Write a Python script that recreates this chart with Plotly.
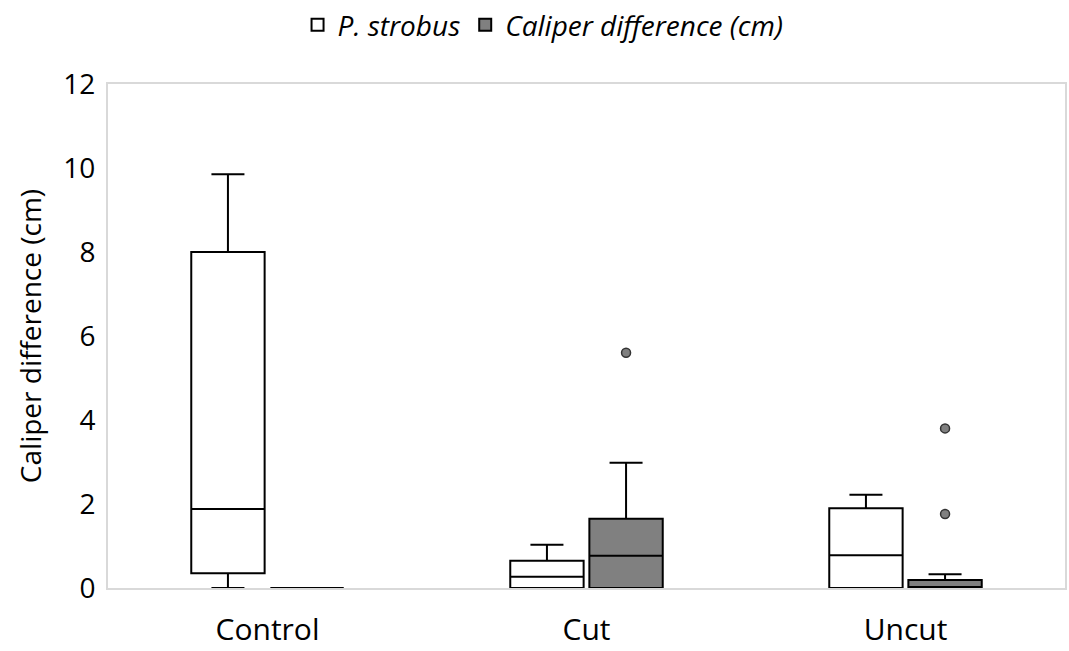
import plotly.graph_objects as go

categories = ["Control", "Cut", "Uncut"]
series_names = ["P. strobus", "Caliper difference (cm)"]

# P. strobus (white)
w_low = [0.0, 0.0, 0.0]
w_q1 = [0.35, 0.0, 0.0]
w_med = [1.88, 0.27, 0.78]
w_q3 = [8.0, 0.65, 1.9]
w_high = [9.85, 1.03, 2.22]

# Caliper difference (grey)
g_low = [0.0, 0.0, 0.0]
g_q1 = [0.0, 0.0, 0.0]
g_med = [0.0, 0.77, 0.0]
g_q3 = [0.0, 1.65, 0.19]
g_high = [0.0, 2.98, 0.33]
g_outlier_cat = [1, 2, 2]
g_outlier_val = [5.6, 3.8, 1.76]

pos = list(range(len(categories)))
off = 0.124
bw = 0.23

fig = go.Figure()
fig.add_trace(go.Box(
    name=series_names[0], x=[p - off for p in pos],
    lowerfence=w_low, q1=w_q1, median=w_med, q3=w_q3, upperfence=w_high,
    width=bw, fillcolor="white", line=dict(color="black", width=2),
    whiskerwidth=0.45, boxpoints=False, showlegend=True))
fig.add_trace(go.Box(
    name=series_names[1], x=[p + off for p in pos],
    lowerfence=g_low, q1=g_q1, median=g_med, q3=g_q3, upperfence=g_high,
    width=bw, fillcolor="#808080", line=dict(color="black", width=2),
    whiskerwidth=0.45, boxpoints=False, showlegend=True))
fig.add_trace(go.Scatter(
    x=[pos[i] + off for i in g_outlier_cat], y=g_outlier_val, mode="markers",
    marker=dict(color="#808080", size=9, line=dict(color="#333333", width=1.5)),
    showlegend=False, hoverinfo="y"))

fig.update_layout(
    width=1069, height=651,
    paper_bgcolor="white", plot_bgcolor="white",
    margin=dict(l=108, r=2, t=84, b=61),
    font=dict(family="Open Sans, Noto Sans, sans-serif", color="black"),
    legend=dict(orientation="h", x=0.508, xanchor="center", xref="container",
                y=1.0, yanchor="top", yref="container",
                font=dict(size=28, style="italic"),
                itemwidth=30, tracegroupgap=0),
    showlegend=True,
)
fig.update_xaxes(range=[-0.5, 2.5], tickvals=pos, ticktext=categories,
                 tickfont=dict(size=30), showgrid=False, zeroline=False,
                 showline=True, linecolor="#d9d9d9", linewidth=2, mirror=True,
                 ticks="", ticklabelstandoff=14)
fig.update_yaxes(range=[0, 12], dtick=2, tickfont=dict(size=28), showgrid=False,
                 zeroline=False, showline=True, linecolor="#d9d9d9", linewidth=2,
                 mirror=True, ticks="", ticklabelstandoff=5,
                 title=dict(text="Caliper difference (cm)", font=dict(size=28), standoff=14))

fig.write_html("out.html")
